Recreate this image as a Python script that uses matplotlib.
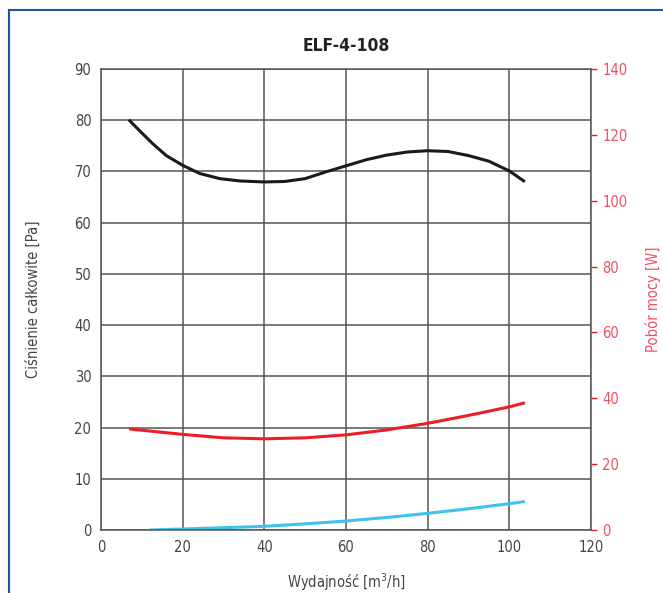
import matplotlib
matplotlib.use("Agg")
import matplotlib.pyplot as plt

plt.rcParams['font.family'] = ['DejaVu Sans']
plt.rcParams['font.stretch'] = 'condensed'

# --- data ---
pressure_x = [6.8, 9.4, 12.7, 16, 20, 24.2, 29.1, 34, 40, 45, 50, 55, 60, 65, 70, 75, 80, 85, 90, 95, 100, 103.8]
pressure_pa = [80.1, 78.0, 75.4, 73.1, 71.2, 69.6, 68.6, 68.15, 67.95, 68.05, 68.6, 69.9, 71.1, 72.3,
               73.2, 73.8, 74.05, 73.9, 73.1, 72.0, 70.1, 68.0]

power_x = [6.9, 20, 30, 40, 50, 60, 70, 80, 90, 100, 103.8]
power_w = [30.7, 29.05, 28.0, 27.7, 28.0, 28.9, 30.4, 32.4, 34.8, 37.4, 38.65]

blue_x = [11.8, 20, 30, 40, 50, 60, 70, 80, 90, 100, 103.8]
blue_pa = [0.0, 0.2, 0.45, 0.72, 1.2, 1.76, 2.45, 3.26, 4.15, 5.15, 5.55]

x_ticks = [0, 20, 40, 60, 80, 100, 120]
left_ticks = [0, 10, 20, 30, 40, 50, 60, 70, 80, 90]
right_ticks = [0, 20, 40, 60, 80, 100, 120, 140]

title = "ELF-4-108"
xlabel = "Wydajność [m$^3$/h]"
ylabel_left = "Ciśnienie całkowite [Pa]"
ylabel_right = "Pobór mocy [W]"

grid_col = '#555555'
text_col = '#444444'
red = '#ee1c25'
red_txt = '#f05060'
blue = '#3ec1f0'

fig = plt.figure(figsize=(6.63, 5.93), dpi=100)
ax = fig.add_axes([0.1523, 0.1062, 0.7391, 0.7774])

ax.plot(pressure_x, pressure_pa, color='#1a1a1a', lw=2.2, solid_capstyle='butt')
ax.plot(blue_x, blue_pa, color=blue, lw=2.2, solid_capstyle='butt')
ax.set_xlim(0, 120)
ax.set_ylim(0, 90)
ax.set_xticks(x_ticks)
ax.set_yticks(left_ticks)
ax.grid(True, color=grid_col, lw=1.1)
ax.set_axisbelow(True)
for s in ax.spines.values():
    s.set_color(grid_col)
    s.set_linewidth(1.1)
ax.tick_params(length=0, pad=7, labelsize=10.5, colors=text_col)
ax.set_xlabel(xlabel, fontsize=10.5, color=text_col, labelpad=12)
ax.set_ylabel(ylabel_left, fontsize=10.5, color=text_col, labelpad=24)
ax.set_title(title, fontsize=12.5, fontweight='bold', color='#222222', pad=13)

ax2 = ax.twinx()
ax2.plot(power_x, power_w, color=red, lw=2.2, solid_capstyle='butt')
ax2.set_ylim(0, 140)
ax2.set_yticks(right_ticks)
ax2.tick_params(axis='y', length=4, width=1, color=red, pad=4, labelsize=10.5, labelcolor=red_txt)
for s in ax2.spines.values():
    s.set_visible(False)
ax2.set_ylabel(ylabel_right, fontsize=10.5, color=red_txt, labelpad=13)

# blue frame around the card (top and left edges visible)
fig.add_artist(plt.Line2D([0.0143, 1.0], [0.983, 0.983], color='#1a56a0', lw=1.5, transform=fig.transFigure))
fig.add_artist(plt.Line2D([0.0143, 0.0143], [0.0, 0.983], color='#1a56a0', lw=1.5, transform=fig.transFigure))

fig.savefig('out.png', dpi=100)
